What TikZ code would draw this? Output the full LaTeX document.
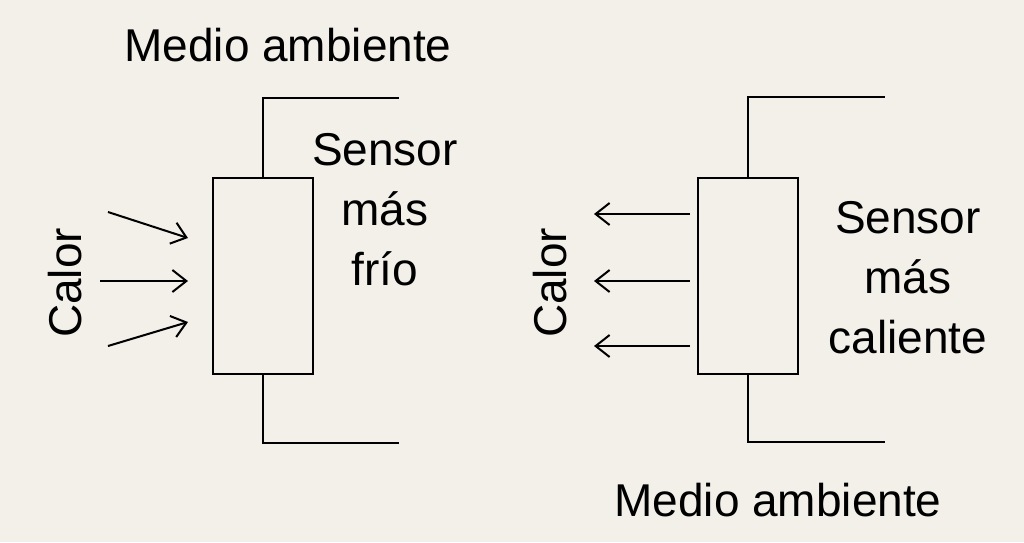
\documentclass[tikz,border=0pt]{standalone}
\usepackage{fontspec}
\setmainfont{Liberation Sans}
\usetikzlibrary{arrows.meta}
\definecolor{bg}{RGB}{242,240,233}
\begin{document}
\begin{tikzpicture}[x=1pt,y=-1pt,
  wire/.style={line width=2.2pt,line cap=rect},
  heat/.style={line width=2pt,-{Straight Barb[length=14pt,width=22pt,line width=2pt]}},
  lbl/.style={font=\fontsize{46}{60}\selectfont,inner sep=0pt,align=center}]
\fill[bg] (0,0) rectangle (1024,542);
\useasboundingbox (0,0) rectangle (1024,542);
% left
\node[draw,line width=2.2pt,minimum width=100pt,minimum height=196pt,inner sep=0pt] (L) at (263,276) {};
\coordinate (l1) at (263,98); \coordinate (l2) at (398,98);
\coordinate (l3) at (263,443); \coordinate (l4) at (398,443);
\draw[wire] (L.north) -- (l1) -- (l2);
\draw[wire] (L.south) -- (l3) -- (l4);
\coordinate (a1) at (108,212); \coordinate (b1) at (188,238);
\coordinate (a2) at (100,281); \coordinate (b2) at (188,281);
\coordinate (a3) at (108,346); \coordinate (b3) at (188,322);
\draw[heat] (a1) -- (b1); \draw[heat] (a2) -- (b2); \draw[heat] (a3) -- (b3);
\node[lbl] (t1) at (288,45) {Medio ambiente};
\node[lbl] (s1) at (385,210) {Sensor\\más\\frío};
\node[lbl,rotate=90] (c1) at (65,283) {Calor};
% right
\node[draw,line width=2.2pt,minimum width=100pt,minimum height=196pt,inner sep=0pt] (R) at (748,276) {};
\coordinate (r1) at (748,97); \coordinate (r2) at (884,97);
\coordinate (r3) at (748,442); \coordinate (r4) at (884,442);
\draw[wire] (R.north) -- (r1) -- (r2);
\draw[wire] (R.south) -- (r3) -- (r4);
\coordinate (d1) at (690,214); \coordinate (e1) at (594,214);
\coordinate (d2) at (690,281); \coordinate (e2) at (594,281);
\coordinate (d3) at (690,346); \coordinate (e3) at (594,346);
\draw[heat] (d1) -- (e1); \draw[heat] (d2) -- (e2); \draw[heat] (d3) -- (e3);
\node[lbl] (s2) at (908,278) {Sensor\\más\\caliente};
\node[lbl,rotate=90] (c2) at (550,283) {Calor};
\node[lbl] (t2) at (778,500) {Medio ambiente};
\end{tikzpicture}
\end{document}
